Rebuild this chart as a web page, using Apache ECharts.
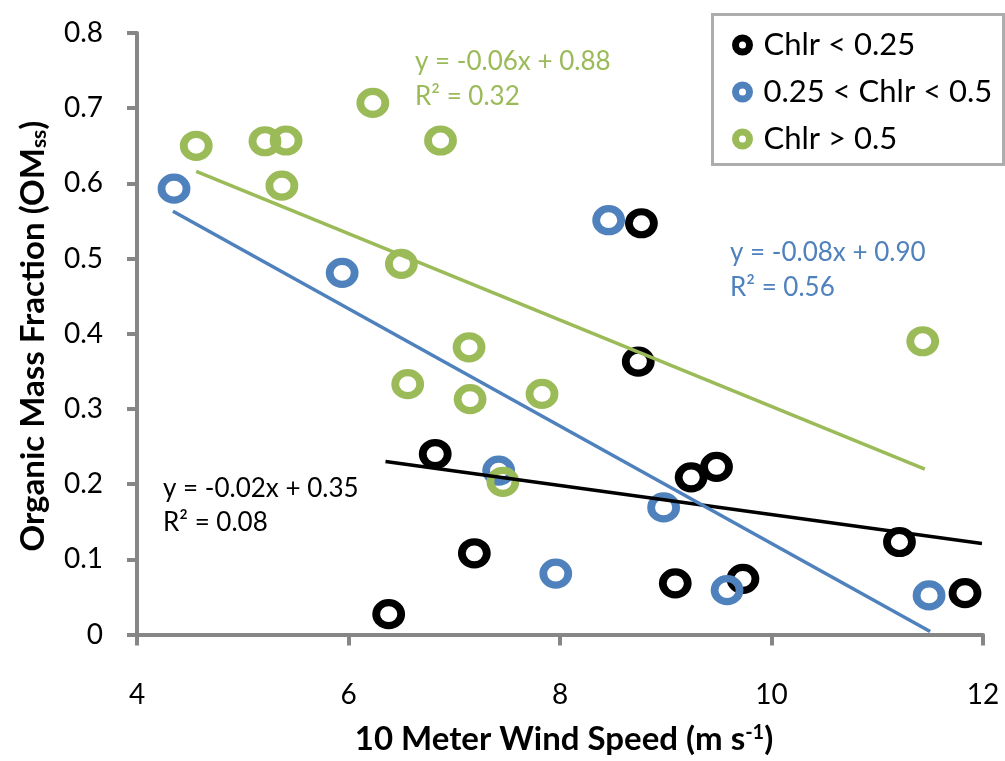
<!DOCTYPE html>
<html>
<head>
<meta charset="utf-8">
<script src="https://cdn.jsdelivr.net/npm/echarts@6/dist/echarts.min.js"></script>
<style>html,body{margin:0;padding:0;background:#fff;}#c{width:1005px;height:761px;}</style>
</head>
<body>
<div id="c"></div>
<script>
var seriesNames = ['Chlr < 0.25', '0.25 < Chlr < 0.5', 'Chlr > 0.5'];
var blackX = [6.38, 6.82, 7.19, 8.74, 8.77, 9.24, 9.48, 9.09, 9.73, 11.21, 11.83];
var blackY = [0.027, 0.240, 0.108, 0.363, 0.547, 0.209, 0.223, 0.068, 0.074, 0.123, 0.055];
var blueX = [4.35, 5.94, 7.42, 7.96, 8.46, 8.98, 9.58, 11.49];
var blueY = [0.593, 0.481, 0.218, 0.081, 0.551, 0.169, 0.059, 0.052];
var greenX = [4.56, 5.21, 5.41, 6.23, 6.87, 5.37, 6.50, 7.14, 6.56, 7.15, 7.83, 7.46, 11.43];
var greenY = [0.650, 0.656, 0.657, 0.707, 0.657, 0.597, 0.493, 0.382, 0.333, 0.313, 0.320, 0.203, 0.390];
var blackTrendX = [6.35, 11.99];
var blackTrendY = [0.230, 0.121];
var blueTrendX = [4.34, 11.50];
var blueTrendY = [0.563, 0.004];
var greenTrendX = [4.56, 11.45];
var greenTrendY = [0.616, 0.220];
var eqLabels = ['y = -0.02x + 0.35', 'y = -0.08x + 0.90', 'y = -0.06x + 0.88'];
var r2Labels = ['R\u00b2 = 0.08', 'R\u00b2 = 0.56', 'R\u00b2 = 0.32'];
var xTicks = [4, 6, 8, 10, 12];
var yTicks = [0, 0.1, 0.2, 0.3, 0.4, 0.5, 0.6, 0.7, 0.8];

var colors = ['#000000', '#4F81BD', '#9BBB59'];
var FONT = 'Lato, "Open Sans", sans-serif';

function zip(xs, ys) { return xs.map(function (x, i) { return [x, ys[i]]; }); }

var pts = [zip(blackX, blackY), zip(blueX, blueY), zip(greenX, greenY)];
var trends = [zip(blackTrendX, blackTrendY), zip(blueTrendX, blueTrendY), zip(greenTrendX, greenTrendY)];

var series = [];
for (var i = 0; i < 3; i++) {
  series.push({
    name: seriesNames[i],
    type: 'scatter',
    data: pts[i],
    symbol: 'circle',
    symbolSize: [25, 23],
    z: 2 + i,
    itemStyle: { color: 'rgba(0,0,0,0)', borderColor: colors[i], borderWidth: 7.5, opacity: 1 },
    emphasis: { disabled: true }
  });
}
for (var j = 0; j < 3; j++) {
  series.push({
    name: seriesNames[j] + ' trend',
    type: 'line',
    data: trends[j],
    showSymbol: false,
    z: 10,
    lineStyle: { color: colors[j], width: 3.5 },
    itemStyle: { color: colors[j] },
    emphasis: { disabled: true }
  });
}

var eqPos = [[163, 489, 523], [730, 253, 288], [415, 62, 97]];
var graphics = [{
  type: 'rect', left: 711, top: 13, z: 50,
  shape: { width: 291, height: 150 },
  style: { fill: '#fff', stroke: '#ADADAD', lineWidth: 3 }
}, {
  type: 'text', x: 33, y: 336, rotation: Math.PI / 2, z: 40,
  style: {
    text: 'Organic Mass Fraction (OM{sub|ss})',
    fill: '#000', font: 'bold 33px ' + FONT, align: 'center', verticalAlign: 'middle',
    rich: {
      sub: { fill: '#000', font: 'bold 21px ' + FONT, verticalAlign: 'bottom', padding: [12, 0, 0, 0] }
    }
  }
}];
for (var k = 0; k < 3; k++) {
  graphics.push({ type: 'text', x: eqPos[k][0], y: eqPos[k][1], z: 40,
    style: { text: eqLabels[k], fill: colors[k], font: '26px ' + FONT, verticalAlign: 'middle' } });
  graphics.push({ type: 'text', x: eqPos[k][0], y: eqPos[k][2], z: 40,
    style: { text: r2Labels[k], fill: colors[k], font: '26px ' + FONT, verticalAlign: 'middle' } });
}

var chart = echarts.init(document.getElementById('c'), null, { renderer: 'canvas' });
chart.setOption({
  animation: false,
  backgroundColor: '#fff',
  grid: { left: 137, right: 22, top: 33, bottom: 123, containLabel: false },
  xAxis: {
    type: 'value', min: 4, max: 12, interval: 2,
    name: '10 Meter Wind Speed (m s{sup|-1})',
    nameLocation: 'middle', nameGap: 88,
    nameTextStyle: {
      fontFamily: FONT, fontSize: 33, fontWeight: 'bold', color: '#000', padding: [0, 0, 0, 8],
      rich: { sup: { fontFamily: FONT, fontSize: 20, fontWeight: 'bold', verticalAlign: 'top', padding: [0, 0, 14, 0], color: '#000' } }
    },
    axisLine: { lineStyle: { color: '#868686', width: 4 } },
    axisTick: { show: true, length: 11, lineStyle: { color: '#868686', width: 4 } },
    axisLabel: { fontFamily: FONT, fontSize: 28, color: '#000', margin: 46,
      formatter: function (v) { return xTicks.indexOf(v) >= 0 ? String(v) : ''; } },
    splitLine: { show: false }
  },
  yAxis: {
    type: 'value', min: 0, max: 0.8, interval: 0.1,
    axisLine: { show: true, lineStyle: { color: '#868686', width: 4 } },
    axisTick: { show: true, length: 10, lineStyle: { color: '#868686', width: 4 } },
    axisLabel: { fontFamily: FONT, fontSize: 28, color: '#000', margin: 34, padding: [6, 0, 0, 0],
      formatter: function (v) {
        var r = Math.round(v * 10) / 10;
        for (var t = 0; t < yTicks.length; t++) if (Math.abs(yTicks[t] - r) < 1e-9) return String(yTicks[t]);
        return '';
      } },
    splitLine: { show: false }
  },
  legend: {
    data: seriesNames,
    orient: 'vertical',
    left: 727, top: 23,
    itemWidth: 14, itemHeight: 14, itemGap: 13,
    icon: 'circle',
    z: 60,
    itemStyle: { color: 'rgba(0,0,0,0)', borderWidth: 7 },
    textStyle: { fontFamily: FONT, fontSize: 31, color: '#000', lineHeight: 34, padding: [0, 0, 0, 9] },
    selectedMode: false
  },
  graphic: graphics,
  series: series
});
</script>
</body>
</html>
